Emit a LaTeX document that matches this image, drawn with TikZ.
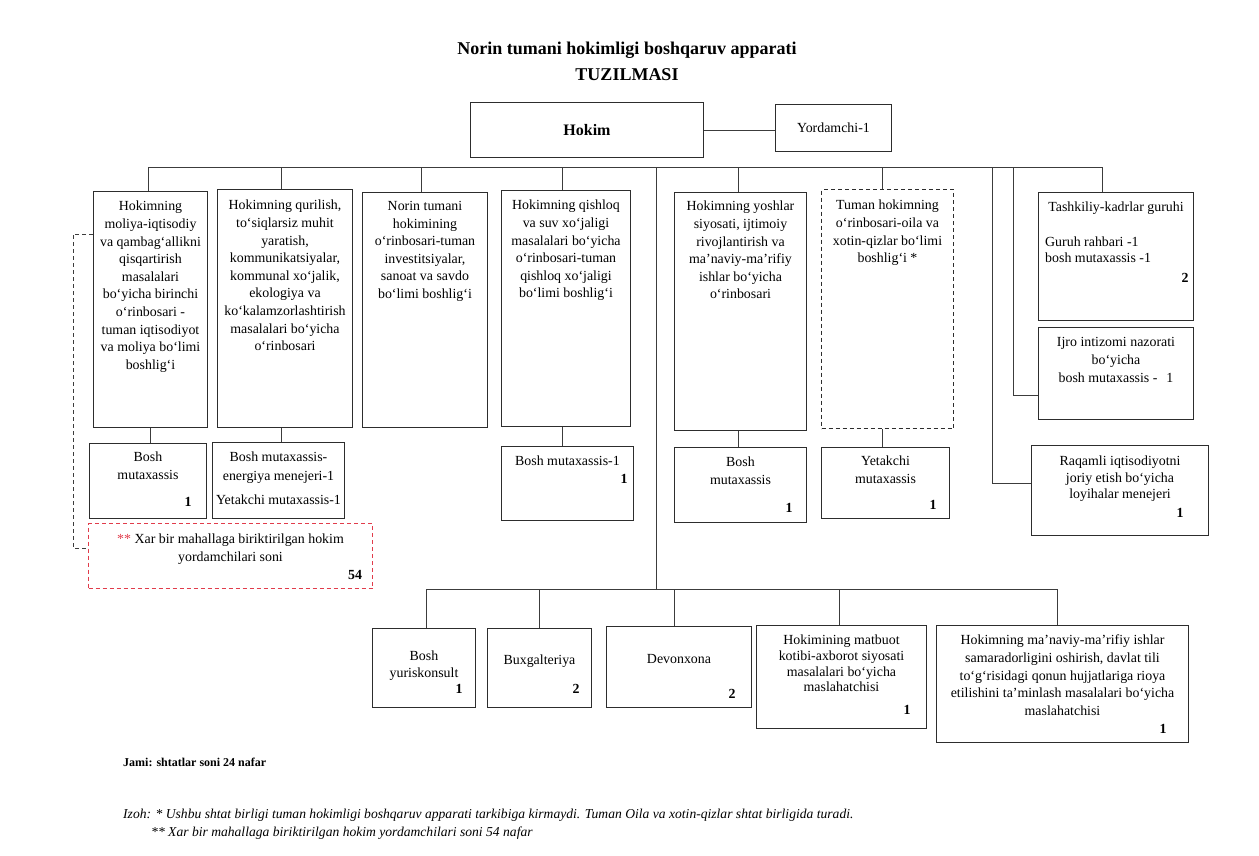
\documentclass[tikz,border=0pt]{standalone}
\usepackage{fontspec}
\setmainfont{Liberation Serif}
\usetikzlibrary{calc}
\definecolor{boxcol}{RGB}{45,45,45}
\definecolor{linecol}{RGB}{60,60,60}
\definecolor{redcol}{RGB}{225,60,75}
\begin{document}
\begin{tikzpicture}[x=1pt,y=-1pt,
  box/.style={draw=boxcol, line width=1pt, inner sep=0pt, anchor=north west},
  dbox/.style={box, dash pattern=on 4pt off 3pt},
  rbox/.style={box, draw=redcol, dash pattern=on 4pt off 3pt},
  ln/.style={draw=linecol, line width=1pt},
  dln/.style={draw=linecol, line width=1pt, dash pattern=on 4pt off 3pt},
  txt/.style={inner sep=0pt, anchor=north, align=center, font=\fontsize{13.9}{17.6}\selectfont},
  txtb/.style={inner sep=0pt, anchor=north, align=center, font=\fontsize{13.9}{15.7}\selectfont},
  num/.style={inner sep=0pt, font=\fontsize{13.9}{16}\selectfont\bfseries},
  ttl/.style={inner sep=0pt, font=\fontsize{18}{22}\selectfont\bfseries},
]
\useasboundingbox (0,0) rectangle (1259,855);

% title
\node[ttl] (title1) at (627,50) {Norin tumani hokimligi boshqaruv apparati};
\node[ttl] (title2) at (627,75) {TUZILMASI};

% top
\node[box, minimum width=233pt, minimum height=55pt, font=\fontsize{16}{18}\selectfont\bfseries] (hokim) at (470,102) {Hokim};
\node[box, minimum width=116pt, minimum height=47pt, font=\fontsize{13.9}{16}\selectfont] (yord) at (775,104) {Yordamchi-1};
\draw[ln] (hokim.east) -- (hokim.east -| yord.west);

% main boxes
\node[box, minimum width=114pt, minimum height=236pt] (b1) at (93,191) {};
\node[box, minimum width=135pt, minimum height=238pt] (b2) at (217,189) {};
\node[box, minimum width=125pt, minimum height=235pt] (b3) at (362,192) {};
\node[box, minimum width=129pt, minimum height=236pt] (b4) at (501,190) {};
\node[box, minimum width=132pt, minimum height=238pt] (b5) at (674,192) {};
\node[dbox, minimum width=132pt, minimum height=239pt] (b6) at (821,189) {};
\node[box, minimum width=155pt, minimum height=128pt] (tk) at (1038,192) {};
\node[box, minimum width=155pt, minimum height=92pt] (ij) at (1038,327) {};
\node[box, minimum width=177pt, minimum height=90pt] (rq) at (1031,445) {};

\node[txt] (t1) at ([yshift=-10pt]b1.north) {Hokimning\\moliya-iqtisodiy\\va qambag‘allikni\\qisqartirish\\masalalari\\bo‘yicha birinchi\\o‘rinbosari -\\tuman iqtisodiyot\\va moliya bo‘limi\\boshlig‘i};
\node[txt] (t2) at ([yshift=-11pt]b2.north) {Hokimning qurilish,\\to‘siqlarsiz muhit\\yaratish,\\kommunikatsiyalar,\\kommunal xo‘jalik,\\ekologiya va\\ko‘kalamzorlashtirish\\masalalari bo‘yicha\\o‘rinbosari};
\node[txt] (t3) at ([yshift=-9pt]b3.north) {Norin tumani\\hokimining\\o‘rinbosari-tuman\\investitsiyalar,\\sanoat va savdo\\bo‘limi boshlig‘i};
\node[txt] (t4) at ([yshift=-10pt]b4.north) {Hokimning qishloq\\va suv xo‘jaligi\\masalalari bo‘yicha\\o‘rinbosari-tuman\\qishloq xo‘jaligi\\bo‘limi boshlig‘i};
\node[txt] (t5) at ([yshift=-9pt]b5.north) {Hokimning yoshlar\\siyosati, ijtimoiy\\rivojlantirish va\\ma’naviy-ma’rifiy\\ishlar bo‘yicha\\o‘rinbosari};
\node[txt] (t6) at ([yshift=-11pt]b6.north) {Tuman hokimning\\o‘rinbosari-oila va\\xotin-qizlar bo‘limi\\boshlig‘i *};

\node[txt] (ttk) at ([yshift=-10pt]tk.north) {Tashkiliy-kadrlar guruhi};
\node[txtb, anchor=north west, align=left] (ttk2) at (1045,236.8) {Guruh rahbari -1\\bosh mutaxassis -1};
\node[num] (ntk) at (1185,278) {2};
\node[txt] (tij) at ([yshift=-10pt]ij.north) {Ijro intizomi nazorati\\bo‘yicha\\[1pt]bosh mutaxassis -\hspace{9pt}1};
\node[txt, font=\fontsize{13.9}{16.5}\selectfont] (trq) at ([yshift=-11pt]rq.north) {Raqamli iqtisodiyotni\\joriy etish bo‘yicha\\loyihalar menejeri};
\node[num] (nrq) at (1180,513) {1};

% sub boxes
\node[box, minimum width=117pt, minimum height=75pt] (s1) at (89,443) {};
\node[box, minimum width=132pt, minimum height=76pt] (s2) at (212,442) {};
\node[box, minimum width=132pt, minimum height=74pt] (s4) at (501,446) {};
\node[box, minimum width=132pt, minimum height=75pt] (s5) at (674,447) {};
\node[box, minimum width=128pt, minimum height=71pt] (s6) at (821,447) {};
\node[rbox, minimum width=284pt, minimum height=65pt] (red) at (88,523) {};

\node[txt] (ts1) at ([yshift=-9pt]s1.north) {Bosh\\mutaxassis};
\node[num] (ns1) at (188,502) {1};
\node[txt, font=\fontsize{13.9}{19}\selectfont] (ts2) at ([yshift=-10pt]s2.north) {Bosh mutaxassis-\\energiya menejeri-1\\[5pt]Yetakchi mutaxassis-1};
\node[txt] (ts4) at ([yshift=-10pt]s4.north) {Bosh mutaxassis-1};
\node[num] (ns4) at (624,479) {1};
\node[txt] (ts5) at ([yshift=-10pt]s5.north) {Bosh\\mutaxassis};
\node[num] (ns5) at (789,508) {1};
\node[txt] (ts6) at ([yshift=-9pt]s6.north) {Yetakchi\\mutaxassis};
\node[num] (ns6) at (933,505) {1};
\node[txt] (tred) at ([yshift=-11pt]red.north) {{\color{redcol}**} Xar bir mahallaga biriktirilgan hokim\\yordamchilari soni};
\node[num] (nred) at (355,575) {54};

% bottom boxes
\node[box, minimum width=103pt, minimum height=79pt] (c1) at (372,628) {};
\node[box, minimum width=104pt, minimum height=79pt] (c2) at (487,628) {};
\node[box, minimum width=145pt, minimum height=81pt] (c3) at (606,626) {};
\node[box, minimum width=170pt, minimum height=103pt] (c4) at (756,625) {};
\node[box, minimum width=252pt, minimum height=117pt] (c5) at (936,625) {};

\node[txt, font=\fontsize{13.9}{17}\selectfont] (tc1) at ([yshift=-23pt]c1.north) {Bosh\\yuriskonsult};
\node[num] (nc1) at (459,689) {1};
\node[txt] (tc2) at ([yshift=-27pt]c2.north) {Buxgalteriya};
\node[num] (nc2) at (576,689) {2};
\node[txt] (tc3) at ([yshift=-28pt]c3.north) {Devonxona};
\node[num] (nc3) at (732,694) {2};
\node[txtb] (tc4) at ([yshift=-10pt]c4.north) {Hokimining matbuot\\kotibi-axborot siyosati\\masalalari bo‘yicha\\maslahatchisi};
\node[num] (nc4) at (907,710) {1};
\node[txt] (tc5) at ([yshift=-10pt]c5.north) {Hokimning ma’naviy-ma’rifiy ishlar\\samaradorligini oshirish, davlat tili\\to‘g‘risidagi qonun hujjatlariga rioya\\etilishini ta’minlash masalalari bo‘yicha\\maslahatchisi};
\node[num] (nc5) at (1163,729) {1};

% top bus
\coordinate (busL) at (148,167);
\coordinate (busR) at (1102,167);
\coordinate (trT) at (656,167);
\coordinate (trB) at (656,589);
\coordinate (v1) at (992,167);
\coordinate (v2) at (1013,167);
\draw[ln] (busL) -- (busR);
\draw[ln] (busL) -- (busL |- b1.north);
\draw[ln] ([xshift=-3.5pt]b2.north) -- ([xshift=-3.5pt]b2.north |- busL);
\draw[ln] ([xshift=-3.5pt]b3.north) -- ([xshift=-3.5pt]b3.north |- busL);
\draw[ln] ([xshift=-3.5pt]b4.north) -- ([xshift=-3.5pt]b4.north |- busL);
\draw[ln] ([xshift=-2pt]b5.north) -- ([xshift=-2pt]b5.north |- busL);
\draw[ln] ([xshift=-5pt]b6.north) -- ([xshift=-5pt]b6.north |- busL);
\draw[ln] (busR) -- (busR |- tk.north);
\draw[ln] (v1) |- ([yshift=7pt]rq.west);
\draw[ln] (v2) |- ([yshift=-22pt]ij.west);
\draw[ln] (trT) -- (trB);

% box to sub box
\draw[ln] (b1.south) -- (b1.south |- s1.north);
\draw[ln] ([xshift=-3.5pt]b2.south) -- ([xshift=-3.5pt]b2.south |- s2.north);
\draw[ln] ([xshift=-3.5pt]b4.south) -- ([xshift=-3.5pt]b4.south |- s4.north);
\draw[ln] ([xshift=-2pt]b5.south) -- ([xshift=-2pt]b5.south |- s5.north);
\draw[ln] ([xshift=-5pt]b6.south) -- ([xshift=-5pt]b6.south |- s6.north);

% dashed left link
\coordinate (dl1) at (73,234);
\coordinate (dl2) at (73,548);
\draw[dln] (b1.west |- dl1) -- (dl1) -- (dl2) -- (dl2 -| red.west);

% bottom bus
\coordinate (bbL) at (426,589);
\coordinate (bbR) at (1057,589);
\draw[ln] (bbL) -- (bbR);
\draw[ln] (bbL) -- (bbL |- c1.north);
\draw[ln] (c2.north) -- (c2.north |- bbL);
\draw[ln] ([xshift=-4.5pt]c3.north) -- ([xshift=-4.5pt]c3.north |- bbL);
\draw[ln] ([xshift=-2pt]c4.north) -- ([xshift=-2pt]c4.north |- bbL);
\draw[ln] (bbR) -- (bbR |- c5.north);

% footer
\node[anchor=west, inner sep=0pt, font=\fontsize{12}{14}\selectfont\bfseries] (jami) at (123,762) {Jami: shtatlar soni 24 nafar};
\node[anchor=west, inner sep=0pt, font=\fontsize{13.6}{15}\selectfont\itshape] (izoh1) at (123,815) {Izoh: * Ushbu shtat birligi tuman hokimligi boshqaruv apparati tarkibiga kirmaydi. Tuman Oila va xotin-qizlar shtat birligida turadi.};
\node[anchor=west, inner sep=0pt, font=\fontsize{13.6}{15}\selectfont\itshape] (izoh2) at (151,833) {** Xar bir mahallaga biriktirilgan hokim yordamchilari soni 54 nafar};
\end{tikzpicture}
\end{document}
